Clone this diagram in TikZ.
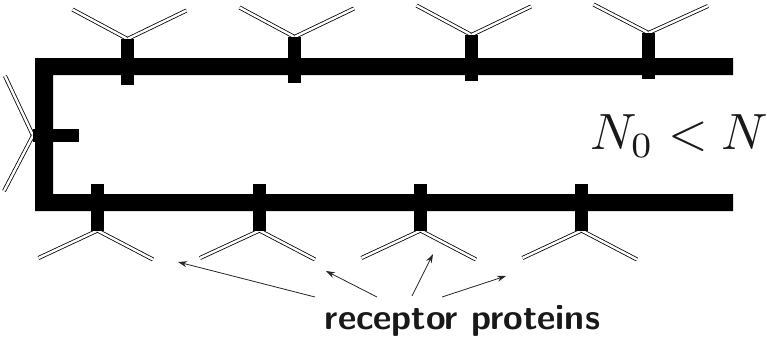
\documentclass[tikz,border=0pt]{standalone}
\usetikzlibrary{arrows.meta}
\tikzset{
  membrane/.style={fill=black,draw=none},
  arm/.style={draw=black,line width=0.8pt,double=white,double distance=2.4pt,line cap=butt},
  pointer/.style={draw=black!85,line width=0.8pt,-{Stealth[length=9pt,width=6pt]}},
  biglabel/.style={inner sep=0pt,anchor=base west,scale=5.1,text=black!90},
  tag/.style={inner sep=0pt,anchor=base west,font=\sffamily\bfseries,scale=3.57,text=black!90}
}
% One receptor: stem from (#1,#2) to (#1,#3), forked arms from the head to the two tips
\newcommand{\receptor}[7]{%
  \draw[arm] (#4,#5) -- (#1,#2);
  \draw[arm] (#6,#7) -- (#1,#2);
  \fill[membrane] (#1-6.5,#2) rectangle (#1+6.5,#3);
}
% Same, lying on its side for the left wall
\newcommand{\sidereceptor}[7]{%
  \draw[arm] (#4,#5) -- (#1,#2);
  \draw[arm] (#6,#7) -- (#1,#2);
  \fill[membrane] (#1,#2-6.5) rectangle (#3,#2+6.5);
}
\begin{document}
\begin{tikzpicture}[x=1pt,y=-1pt]
  \useasboundingbox (0,0) rectangle (767,340);
  % Cell membrane
  \fill[membrane] (733,58) -- (35,58) -- (35,211) -- (733,211) -- (733,194) -- (53,194) -- (53,75) -- (733,75) -- cycle;
  % Receptors on the upper wall
  \receptor{127.5}{39}{85}{72.5}{9.5}{186.5}{10.5}
  \receptor{294.5}{37}{83}{239.5}{7.5}{354}{8.5}
  \receptor{471.5}{35}{81}{416.5}{5.5}{531}{6.5}
  \receptor{648.5}{33}{79}{593.5}{4.5}{708}{6}
  % Receptors on the lower wall
  \receptor{97.5}{230.5}{184}{38.5}{258}{153}{259.5}
  \receptor{259.5}{230.5}{184}{200}{258}{315}{259.5}
  \receptor{420.5}{230.5}{184}{361.5}{258}{476}{259.5}
  \receptor{581.5}{230.5}{184}{522.5}{258}{637}{259.5}
  % Receptor on the left wall
  \sidereceptor{33}{135.5}{79}{5}{76}{4}{191}
  % Labels
  \node[biglabel] (ratio) at (589,149.5) {$N_0<N$};
  \node[tag] (tagtext) at (324,329) {receptor proteins};
  % Pointers from the label to the receptors
  \coordinate (fromA) at (315,297);
  \coordinate (toA) at (178,262);
  \coordinate (fromB) at (377,297);
  \coordinate (toB) at (326,271);
  \coordinate (fromC) at (412,296);
  \coordinate (toC) at (433,254);
  \coordinate (fromD) at (442,297);
  \coordinate (toD) at (506,276);
  \draw[pointer] (fromA) -- (toA);
  \draw[pointer] (fromB) -- (toB);
  \draw[pointer] (fromC) -- (toC);
  \draw[pointer] (fromD) -- (toD);
\end{tikzpicture}
\end{document}
